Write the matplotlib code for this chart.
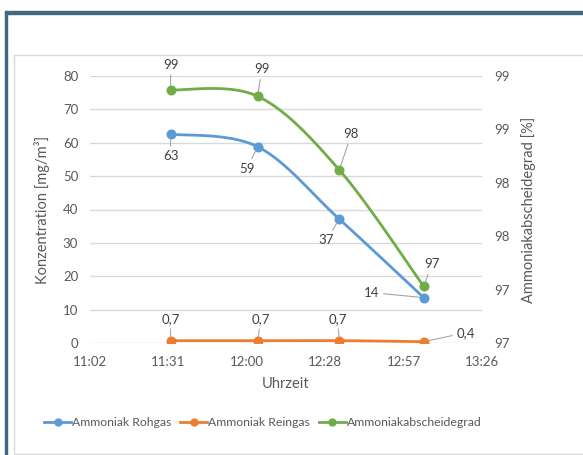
import numpy as np
import matplotlib
matplotlib.use("Agg")
import matplotlib.pyplot as plt
from matplotlib.patches import Rectangle
from matplotlib.lines import Line2D

plt.rcParams['font.family'] = ['Lato', 'DejaVu Sans']

# ---------------- data ----------------
times = ["11:32", "12:04", "12:34", "13:05"]
rohgas = [62.6, 58.8, 37.1, 13.6]
reingas = [0.7, 0.7, 0.7, 0.4]
abscheidegrad = [98.87, 98.81, 98.12, 97.03]
rohgas_labels = ["63", "59", "37", "14"]
reingas_labels = ["0,7", "0,7", "0,7", "0,4"]
abscheide_labels = ["99", "99", "98", "97"]
x_tick_labels = ["11:02", "11:31", "12:00", "12:28", "12:57", "13:26"]
x_tick_days = [0.46, 0.48, 0.50, 0.52, 0.54, 0.56]
left_ticks = [0, 10, 20, 30, 40, 50, 60, 70, 80]
right_ticks = [96.5, 97.0, 97.5, 98.0, 98.5, 99.0]
right_tick_labels = ["97", "97", "98", "98", "99", "99"]
series_names = ["Ammoniak Rohgas", "Ammoniak Reingas", "Ammoniakabscheidegrad"]


def to_min(s):
    h, m = s.split(":")
    return int(h) * 60 + int(m)


x = np.array([to_min(t) for t in times], dtype=float)
xt = np.array(x_tick_days) * 24 * 60

BLUE = "#5B9BD5"
ORANGE = "#ED7D31"
GREEN = "#70AD47"
TXT = "#595959"
LBL = "#404040"
GRID = "#D9D9D9"

W, H = 583, 455
fig = plt.figure(figsize=(W / 100, H / 100), dpi=100)

# frame decorations
fig.patches.append(Rectangle((5 / W, 0), 2.2 / W, 1 - 11 / H, transform=fig.transFigure,
                             color="#41687F", zorder=0))
fig.patches.append(Rectangle((5 / W, 1 - 13.5 / H), 1, 2.2 / H, transform=fig.transFigure,
                             color="#41687F", zorder=0))
fig.patches.append(Rectangle((14 / W, 1 / H), 1, 1 - 56 / H, transform=fig.transFigure,
                             facecolor="none", edgecolor="#D9D9D9", lw=1.0, zorder=0))

ax = fig.add_axes([90 / W, 1 - 343 / H, (482 - 90) / W, (343 - 76) / H])
ax2 = ax.twinx()

ax.set_xlim(xt[0], xt[-1])
ax.set_ylim(0, 80)
ax2.set_ylim(right_ticks[0], right_ticks[-1])

ax.set_xticks(xt)
ax.set_xticklabels(x_tick_labels)
ax.set_yticks(left_ticks)
ax2.set_yticks(right_ticks)
ax2.set_yticklabels(right_tick_labels)

for a in (ax, ax2):
    for s in a.spines.values():
        s.set_visible(False)
    a.tick_params(length=0, colors=TXT, labelsize=9.5)
ax.tick_params(axis='y', pad=8.5)
ax2.tick_params(axis='y', pad=9)
ax.tick_params(axis='x', pad=9)
ax.yaxis.grid(True, color=GRID, lw=1.0)
ax.set_axisbelow(True)

ax.set_xlabel("Uhrzeit", color=TXT, fontsize=10.5, labelpad=7)
ax.set_ylabel("Konzentration [mg/m³]", color=TXT, fontsize=10.5, labelpad=9)
ax2.set_ylabel("Ammoniakabscheidegrad [%]", color=TXT, fontsize=10.5, labelpad=8)


def smooth(axis, xs, ys, n=40):
    pts = axis.transData.transform(np.column_stack([xs, ys]))
    P = np.vstack([pts[0], pts, pts[-1]])
    out = []
    for i in range(1, len(P) - 2):
        p0, p1, p2, p3 = P[i - 1], P[i], P[i + 1], P[i + 2]
        c1 = p1 + (p2 - p0) / 6.0
        c2 = p2 - (p3 - p1) / 6.0
        t = np.linspace(0, 1, n)[:, None]
        seg = ((1 - t) ** 3) * p1 + 3 * ((1 - t) ** 2) * t * c1 + 3 * (1 - t) * t ** 2 * c2 + t ** 3 * p2
        out.append(seg if i == 1 else seg[1:])
    seg = np.vstack(out)
    return axis.transData.inverted().transform(seg)


fig.canvas.draw()

for axis, ys, col in ((ax, rohgas, BLUE), (ax, reingas, ORANGE), (ax2, abscheidegrad, GREEN)):
    c = smooth(axis, x, ys)
    axis.plot(c[:, 0], c[:, 1], color=col, lw=2.0, solid_capstyle='round', zorder=3)
    axis.plot(x, ys, 'o', color=col, ms=6.2, zorder=4)


def labels(axis, ys, texts, offsets):
    for xi, yi, t, (dx, dy) in zip(x, ys, texts, offsets):
        axis.annotate(t, (xi, yi), xytext=(dx, -dy), textcoords='offset pixels',
                      ha='center', va='center', color=LBL, fontsize=9.5, zorder=5,
                      arrowprops=dict(arrowstyle='-', color='#A6A6A6', lw=0.8,
                                      shrinkA=1, shrinkB=3))


labels(ax2, abscheidegrad, abscheide_labels, [(0, -25), (4, -27), (12, -36), (8, -22)])
labels(ax, rohgas, rohgas_labels, [(0, 22), (-11, 22), (-13, 21), (-52, -5)])
labels(ax, reingas, reingas_labels, [(0, -22), (3, -22), (-2, -22), (42, -9)])

handles = [Line2D([], [], color=c, lw=2.0, marker='o', ms=5) for c in (BLUE, ORANGE, GREEN)]
fig.legend(handles, series_names, loc='center', bbox_to_anchor=(263 / W, 1 - 423 / H),
           ncol=3, frameon=False, fontsize=8.8, labelcolor=TXT, handlelength=2.2,
           handletextpad=0.1, columnspacing=0.7)

fig.savefig("out.png", dpi=100)
